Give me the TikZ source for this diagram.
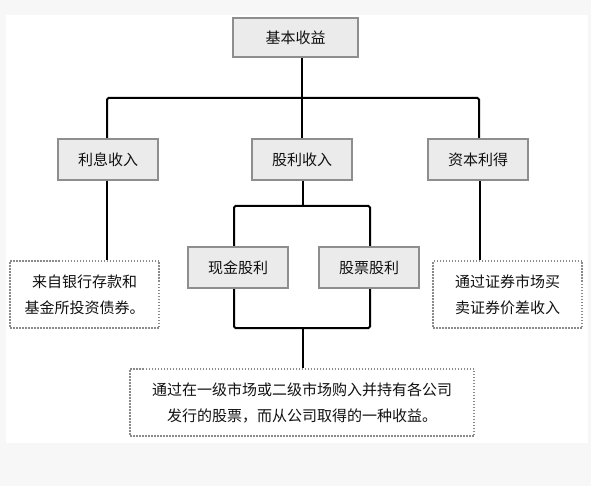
\documentclass[tikz,border=0pt]{standalone}
\usepackage{fontspec}
\setmainfont{Noto Sans CJK SC}
\definecolor{boxfill}{HTML}{EBEBEB}
\definecolor{boxline}{HTML}{8E8E8E}
\definecolor{dotline}{HTML}{8A8A8A}
\definecolor{txt}{HTML}{111111}
\definecolor{outer}{HTML}{F7F7F7}
\begin{document}
\begin{tikzpicture}[x=1pt,y=-1pt,
  grayBox/.style={draw=boxline,fill=boxfill,line width=2pt,minimum width=100pt,minimum height=41pt,inner sep=0pt,text=txt,font=\fontsize{15}{15}\selectfont},
  noteBox/.style={draw=dotline,line width=2.2pt,dash pattern=on 1.5pt off 1.5pt,minimum height=67pt,inner sep=0pt,text=txt,align=center,font=\fontsize{15}{26}\selectfont},
  conn/.style={draw=black,line width=2pt,rounded corners=1.5pt}]
\fill[outer] (0,0) rectangle (591,486);
\fill[white] (6,15) rectangle (588,443);
\node[grayBox,minimum width=125pt,minimum height=39pt] (top) at (295.5,37.5) {基本收益};
\node[grayBox] (lixi) at (108,159.5) {利息收入};
\node[grayBox] (guli) at (302,159.5) {股利收入};
\node[grayBox] (ziben) at (478,159.5) {资本利得};
\node[grayBox] (xianjin) at (238,267.5) {现金股利};
\node[grayBox] (gupiao) at (369,267.5) {股票股利};
\node[noteBox,minimum width=149pt] (ln) at (84.5,294.5) {来自银行存款和\\基金所投资债券。};
\node[noteBox,minimum width=149pt] (rn) at (507.5,294.5) {通过证券市场买\\卖证券价差收入};
\node[noteBox,minimum width=344pt] (bn) at (302,402.5) {通过在一级市场或二级市场购入并持有各公司\\发行的股票，而从公司取得的一种收益。};
\coordinate (b1) at (302,98);
\coordinate (b2) at (303,206);
\coordinate (b3) at (303,328);
\draw[conn] (top.south -| b1) -- (guli.north);
\draw[conn] ([xshift=-1pt]lixi.north) |- (b1) -| ([xshift=1pt]ziben.north);
\draw[conn] ([xshift=-1pt]lixi.south) -- ([xshift=-1pt]lixi.south |- ln.north);
\draw[conn] ([xshift=2pt]ziben.south) -- ([xshift=2pt]ziben.south |- rn.north);
\draw[conn] (guli.south -| b2) -- (b2);
\draw[conn] ([xshift=-4pt]xianjin.north) |- (b2) -| ([xshift=1pt]gupiao.north);
\draw[conn] ([xshift=-4pt]xianjin.south) |- (b3) -| ([xshift=1pt]gupiao.south);
\draw[conn] (b3) -- (b3 |- bn.north);
\end{tikzpicture}
\end{document}
